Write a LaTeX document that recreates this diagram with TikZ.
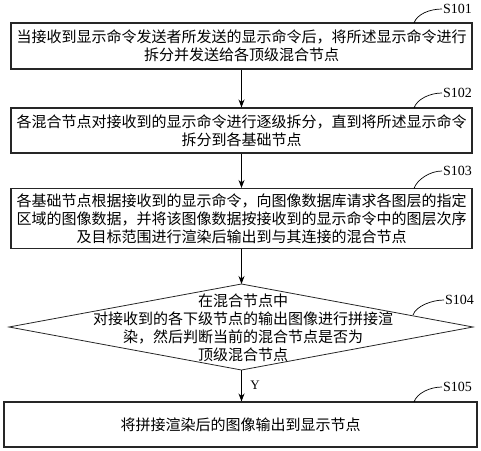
\documentclass[tikz,border=0pt]{standalone}
\usepackage{fontspec}
\usepackage{tikz}
\usetikzlibrary{arrows.meta}
\setmainfont{Liberation Serif}
\newfontfamily\cjk{Noto Sans CJK SC}

\begin{document}
\begin{tikzpicture}[x=1pt, y=-1pt,
    stepbox/.style={draw=black!85, line width=1.1pt, minimum width=461pt, inner sep=0pt,
      align=center, font=\cjk\fontsize{15}{18}\selectfont},
    steptag/.style={anchor=west, inner sep=1pt, font=\fontsize{14}{16}\selectfont},
    flow/.style={-{Stealth[length=8pt,width=6pt]}, line width=0.9pt}]
    \useasboundingbox (0,0) rectangle (481,450);

    % Draw steps
    \node[stepbox, minimum height=46pt] (box1) at (241.5,46)
      {当接收到显示命令发送者所发送的显示命令后，将所述显示命令进行\\拆分并发送给各顶级混合节点};
    \node[stepbox, minimum height=45pt] (box2) at (241.5,130.5)
      {各混合节点对接收到的显示命令进行逐级拆分，直到将所述显示命令\\拆分到各基础节点};
    \node[stepbox, minimum height=60pt] (box3) at (241.5,218.5)
      {各基础节点根据接收到的显示命令，向图像数据库请求各图层的指定\\区域的图像数据，并将该图像数据按接收到的显示命令中的图层次序\\及目标范围进行渲染后输出到与其连接的混合节点};
    \node[stepbox, minimum width=473pt, minimum height=45pt] (box5) at (240.5,424.5)
      {将拼接渲染后的图像输出到显示节点};

    % Draw decision
    \coordinate (dtop) at (241.5,284);
    \coordinate (dleft) at (9,327);
    \coordinate (dright) at (473,327);
    \coordinate (dbot) at (241.5,370);
    \draw[line width=0.8pt, black!85] (dtop) -- (dright) -- (dbot) -- (dleft) -- cycle;
    \node[align=center, inner sep=0pt, font=\cjk\fontsize{15}{18}\selectfont] (box4) at (243,328)
      {在混合节点中\\对接收到的各下级节点的输出图像进行拼接渲\\染，然后判断当前的混合节点是否为\\顶级混合节点};

    % Draw arrows
    \draw[flow] (box1.south) -- (box2.north);
    \draw[flow] (box2.south) -- (box3.north);
    \draw[flow] (box3.south) -- (dtop);
    \draw[flow] (dbot) -- node[right=5pt, font=\fontsize{13}{15}\selectfont] (yes) {Y} (box5.north -| dbot);

    % Draw step tags
    \node[steptag] (s1) at (442,9) {S101};
    \node[steptag] (s2) at (442,93) {S102};
    \node[steptag] (s3) at (442,171) {S103};
    \node[steptag] (s4) at (444,300) {S104};
    \node[steptag] (s5) at (442,387) {S105};
    \coordinate (c1) at (414,23);
    \coordinate (c2) at (414,108);
    \coordinate (c3) at (414,188.5);
    \coordinate (c4) at (413,315);
    \coordinate (c5) at (414,402);
    \foreach \n in {1,2,3,4,5}
      \draw[line width=0.7pt] (c\n) .. controls ([xshift=3pt,yshift=9pt]c\n) and ([xshift=-12pt]s\n.west) .. (s\n.west);
\end{tikzpicture}
\end{document}
